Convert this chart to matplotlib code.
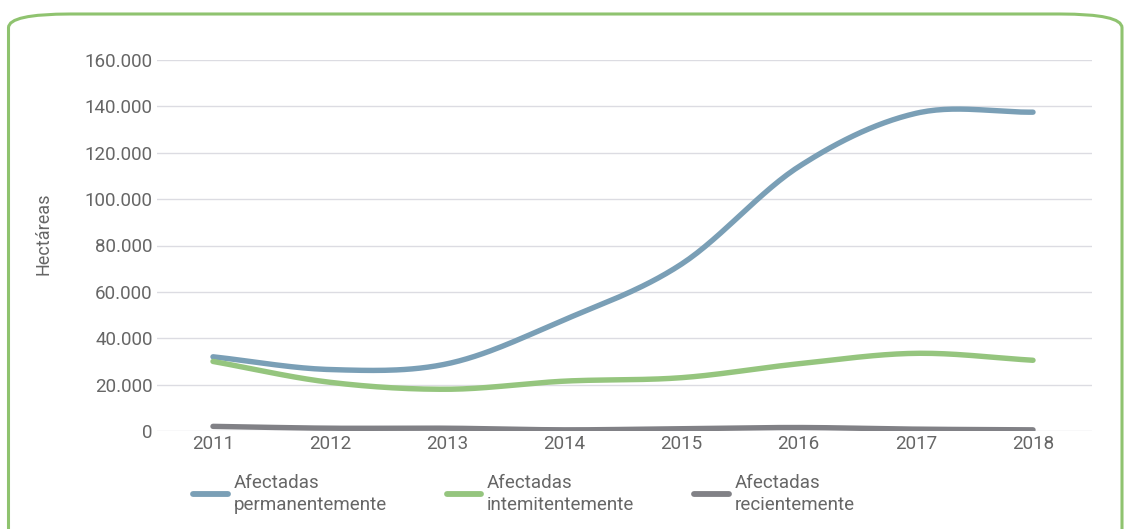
import numpy as np
import matplotlib
matplotlib.use("Agg")
import matplotlib.pyplot as plt
from matplotlib.patches import FancyBboxPatch
from matplotlib.ticker import FuncFormatter

years = [2011, 2012, 2013, 2014, 2015, 2016, 2017, 2018]
permanente = [32000, 26500, 29000, 48000, 72000, 114000, 137000, 137500]
intermitente = [30000, 21000, 18000, 21500, 23000, 29000, 33500, 30500]
reciente = [2000, 1200, 1200, 500, 1000, 1500, 800, 500]
labels = ["Afectadas\npermanentemente", "Afectadas\nintemitentemente", "Afectadas\nrecientemente"]
colors = ["#7a9fb6", "#95c57e", "#818186"]
yticks = [0, 20000, 40000, 60000, 80000, 100000, 120000, 140000, 160000]

plt.rcParams['font.family'] = ['Roboto', 'DejaVu Sans']


def smooth(x, y, n=30):
    x = np.asarray(x, float); y = np.asarray(y, float)
    m = np.zeros_like(y)
    m[1:-1] = (y[2:] - y[:-2]) / (x[2:] - x[:-2])
    m[0] = (y[1] - y[0]) / (x[1] - x[0])
    m[-1] = (y[-1] - y[-2]) / (x[-1] - x[-2])
    xs, ys = [], []
    for i in range(len(x) - 1):
        h = x[i + 1] - x[i]
        t = np.linspace(0, 1, n, endpoint=(i == len(x) - 2))
        h00 = 2 * t**3 - 3 * t**2 + 1
        h10 = t**3 - 2 * t**2 + t
        h01 = -2 * t**3 + 3 * t**2
        h11 = t**3 - t**2
        xs.append(x[i] + t * h)
        ys.append(h00 * y[i] + h10 * h * m[i] + h01 * y[i + 1] + h11 * h * m[i + 1])
    return np.concatenate(xs), np.concatenate(ys)


W, H = 1126, 529
fig = plt.figure(figsize=(W / 100, H / 100), dpi=100)
L, R, T, B = 157, 1092, 60, 431
ax = fig.add_axes([L / W, 1 - B / H, (R - L) / W, (B - T) / H])

handles = []
for vals, c, lab in zip([permanente, intermitente, reciente], colors, labels):
    xs, ys = smooth(years, vals)
    h, = ax.plot(xs, ys, color=c, lw=3.9, solid_capstyle='round', label=lab)
    handles.append(h)

# 2011 at x=213, 2018 at x=1033
ppy = (1033 - 213) / 7
ax.set_xlim(2011 - (213 - L) / ppy, 2018 + (R - 1033) / ppy)
ax.set_ylim(0, 160000)
ax.set_xticks(years)
ax.set_yticks(yticks)
ax.yaxis.set_major_formatter(FuncFormatter(lambda v, p: f"{int(v):,}".replace(",", ".")))
ax.grid(axis='y', color='#dcdce2', lw=1)
ax.set_axisbelow(True)
for s in ax.spines.values():
    s.set_visible(False)
ax.tick_params(length=0, labelsize=13.5, colors='#666666')
ax.tick_params(axis='y', pad=3)
ax.tick_params(axis='x', pad=3)

fig.text(43 / W, 1 - 234 / H, "Hectáreas", rotation=90, fontsize=13, color='#666666',
         ha='center', va='center')

leg = fig.legend(handles=handles, labels=labels, loc='center left', ncol=3,
                 bbox_to_anchor=(193 / W, 1 - 494 / H), frameon=False,
                 handlelength=1.85, handletextpad=0.3, columnspacing=3.2,
                 fontsize=13.5, labelcolor='#666666', borderaxespad=0, borderpad=0)
for t in leg.get_texts():
    t.set_linespacing(1.3)
for line in leg.get_lines():
    line.set_linewidth(4.2)

border = FancyBboxPatch((8.5 / W, -0.05), (1122 - 8.5) / W, (H - 14) / H + 0.05,
                        boxstyle="round,pad=0,rounding_size=0.055",
                        transform=fig.transFigure, fill=False, edgecolor='#8fc36f',
                        lw=2.2, mutation_aspect=H / W)
fig.patches.append(border)

fig.savefig("out.png", dpi=100)
